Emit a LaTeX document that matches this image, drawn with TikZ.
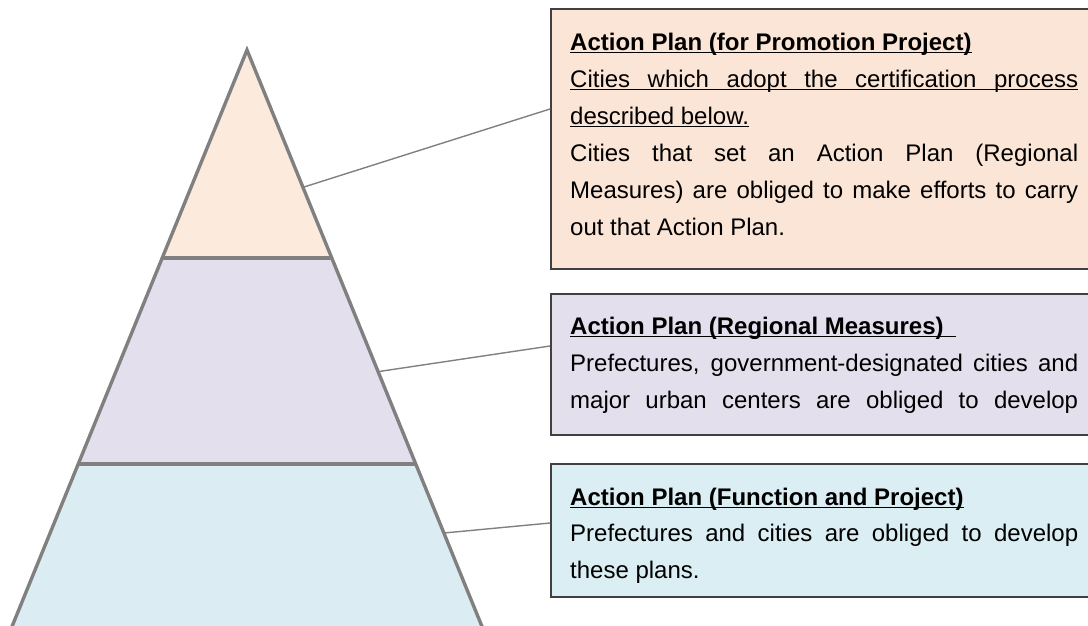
\documentclass[tikz,border=0pt]{standalone}
\usepackage{fontspec}
\setmainfont{Liberation Sans}
\definecolor{tierA}{HTML}{FCEBDD}
\definecolor{tierB}{HTML}{E4DFEC}
\definecolor{tierC}{HTML}{DBEDF3}
\definecolor{panelA}{HTML}{FBE5D6}
\definecolor{panelB}{HTML}{E4DFEC}
\definecolor{panelC}{HTML}{DAEEF3}
\definecolor{edgegray}{HTML}{808080}
\definecolor{framegray}{HTML}{404040}
% justified line of fixed width
\newcommand\jl[1]{\makebox[508pt][s]{#1}}
% underlined text (regular and bold title)
\newcommand\ull[1]{\setbox0=\hbox{#1}\rlap{\rule[-3.2pt]{\wd0}{1.4pt}}\box0}
\newcommand\ulttl[1]{\setbox0=\hbox{\bfseries #1}\rlap{\rule[-3.4pt]{\wd0}{1.8pt}}\box0}
\begin{document}
\begin{tikzpicture}[x=1pt,y=-1pt,
  pyr/.style={draw=edgegray, line width=3.4pt, line join=miter},
  leader/.style={draw=edgegray, line width=1.4pt},
  panel/.style={draw=framegray, line width=1.5pt, rectangle, inner sep=0pt, anchor=north west, minimum width=580pt},
  txt/.style={anchor=base west, inner sep=0pt, font=\fontsize{24pt}{37pt}\selectfont}]
\clip (0,0) rectangle (1088,625);

% pyramid corners
\coordinate (apex) at (247,50);
\coordinate (l1) at (162,258); \coordinate (r1) at (332,258);
\coordinate (l2) at (78,464);  \coordinate (r2) at (416,464);
\coordinate (l3) at (6.5,640); \coordinate (r3) at (487.5,640);

% tiers
\fill[tierA] (apex) -- (l1) -- (r1) -- cycle;
\fill[tierB] (l1) -- (l2) -- (r2) -- (r1) -- cycle;
\fill[tierC] (l2) -- (l3) -- (r3) -- (r2) -- cycle;
\draw[pyr] (l3) -- (apex) -- (r3);
\draw[pyr] (l1) -- (r1);
\draw[pyr] (l2) -- (r2);

% description panels
\node[panel, fill=panelA, minimum height=260pt] (b1) at (550,8) {};
\node[panel, fill=panelB, minimum height=141pt] (b2) at (550,293) {};
\node[panel, fill=panelC, minimum height=133pt] (b3) at (550,463) {};

% leader lines from the pyramid to the panels
\coordinate (p1) at (304,187);
\coordinate (p2) at (379,371.5);
\coordinate (p3) at (444,533);
\coordinate (c1) at (550,109);
\coordinate (c2) at (550,346);
\coordinate (c3) at (550,523);
\draw[leader] (p1) -- (c1);
\draw[leader] (p2) -- (c2);
\draw[leader] (p3) -- (c3);

% panel texts
\node[txt] (t1) at (570,50) {\vtop{\baselineskip=37pt\lineskiplimit=-50pt
  \hbox{\ulttl{Action Plan (for Promotion Project)}}
  \hbox{\ull{\jl{Cities which adopt the certification process}}}
  \hbox{\ull{described below.}}
  \hbox{\jl{Cities that set an Action Plan (Regional}}
  \hbox{\jl{Measures) are obliged to make efforts to carry}}
  \hbox{out that Action Plan.}}};
\node[txt] (t2) at (570,334) {\vtop{\baselineskip=37pt\lineskiplimit=-50pt
  \hbox{\ulttl{Action Plan (Regional Measures)\hspace{12pt}}}
  \hbox{\jl{Prefectures, government-designated cities and}}
  \hbox{\jl{major urban centers are obliged to develop}}}};
\node[txt] (t3) at (570,505) {\vtop{\baselineskip=36.5pt\lineskiplimit=-50pt
  \hbox{\ulttl{Action Plan (Function and Project)}}
  \hbox{\jl{Prefectures and cities are obliged to develop}}
  \hbox{these plans.}}};
\end{tikzpicture}
\end{document}
